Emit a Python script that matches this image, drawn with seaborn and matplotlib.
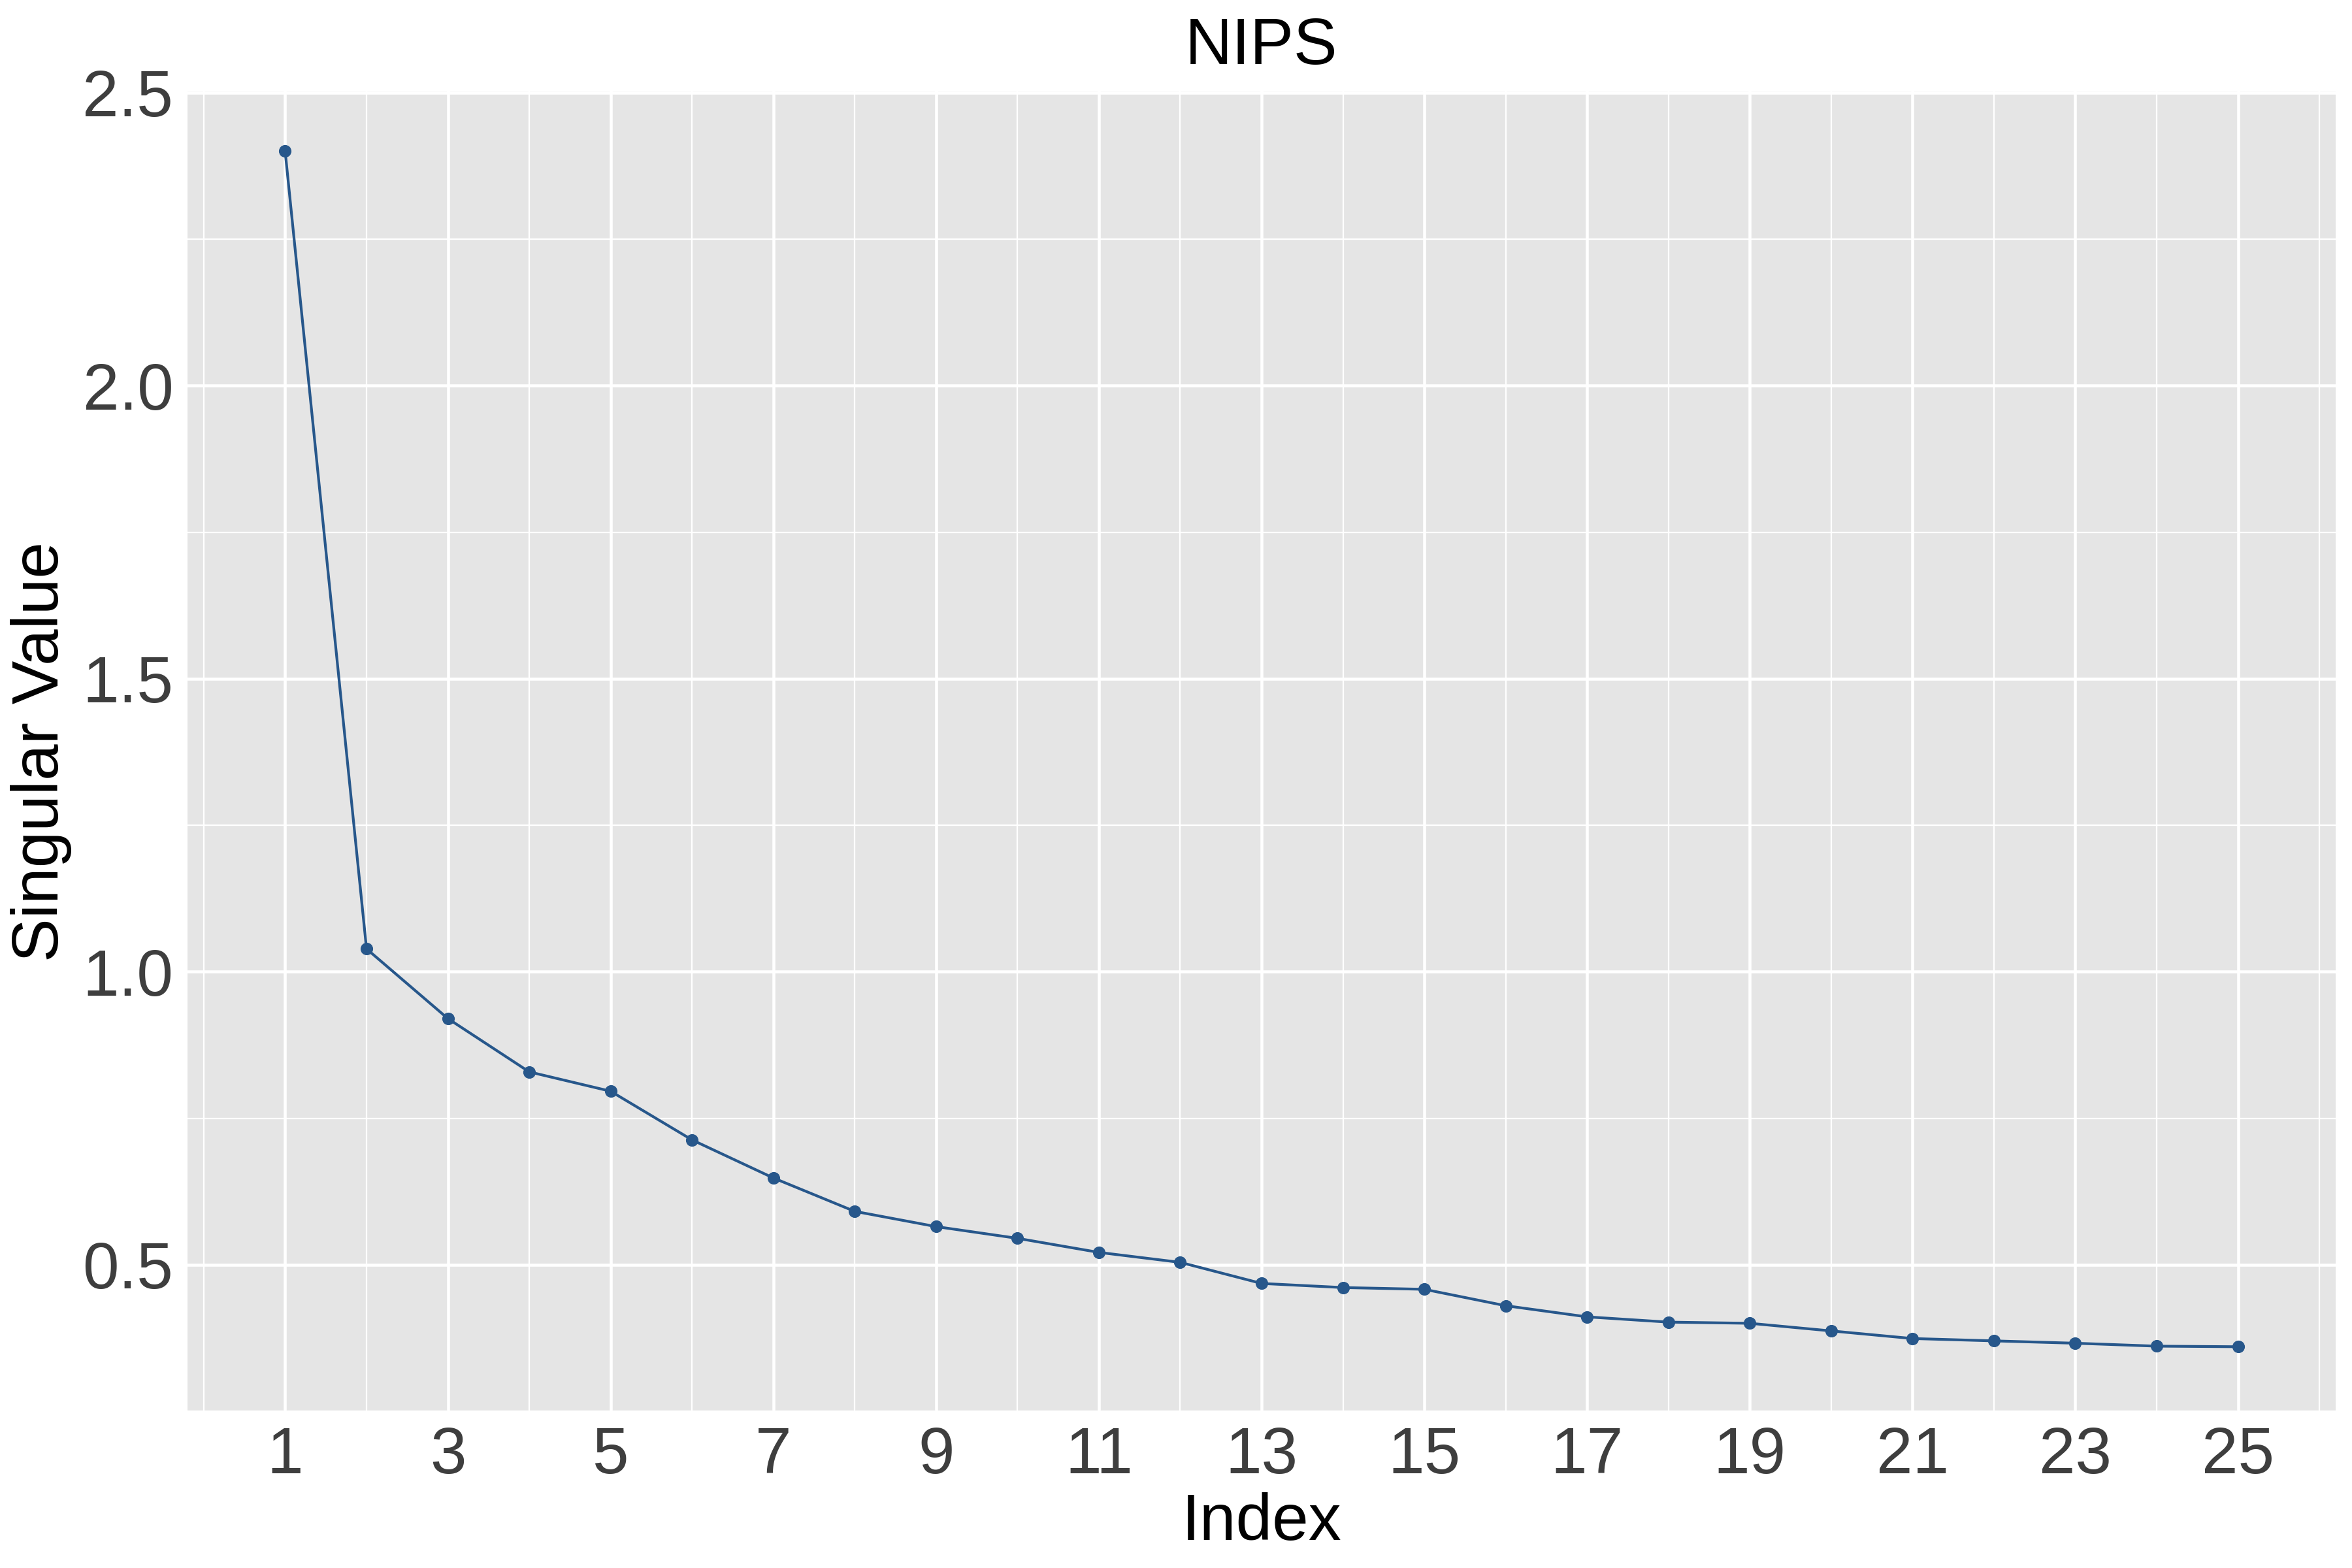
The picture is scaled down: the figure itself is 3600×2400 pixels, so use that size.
import matplotlib.pyplot as plt
import seaborn as sns
import pandas as pd

# singular values
index = list(range(1, 26))
singular_values = [2.400, 1.039, 0.920, 0.829, 0.796, 0.713, 0.648, 0.591,
                   0.565, 0.545, 0.521, 0.504, 0.468, 0.461, 0.458, 0.430,
                   0.411, 0.402, 0.400, 0.387, 0.374, 0.370, 0.366, 0.361,
                   0.360]
x_ticks = list(range(1, 26, 2))
y_ticks = [0.5, 1.0, 1.5, 2.0, 2.5]

df = pd.DataFrame({'Index': index, 'Singular Value': singular_values})

sns.set_theme(style='darkgrid')
plt.rcParams['font.family'] = ['Liberation Sans', 'DejaVu Sans']

fig, ax = plt.subplots(figsize=(12, 8), dpi=300)
fig.subplots_adjust(left=287 / 3600, right=3575 / 3600,
                    top=1 - 140 / 2400, bottom=1 - 2160 / 2400)

sns.lineplot(data=df, x='Index', y='Singular Value', marker='o',
             color='#27578B', linewidth=1.0, markersize=4.6,
             markeredgewidth=0, ax=ax)

ax.set_facecolor('#E5E5E5')
ax.set_xlim(-0.2, 26.2)
ax.set_ylim(0.258, 2.502)
ax.set_xticks(x_ticks)
ax.set_yticks(y_ticks)
ax.set_xticks(range(0, 27, 2), minor=True)
ax.set_yticks([0.25, 0.75, 1.25, 1.75, 2.25], minor=True)
ax.grid(which='major', color='white', linewidth=1.1)
ax.grid(which='minor', color='white', linewidth=0.55)
for s in ax.spines.values():
    s.set_visible(False)

ax.tick_params(which='major', length=2.7, width=0.9, color='#333333',
               labelsize=24, labelcolor='#3E3E3E', pad=2.5)
ax.tick_params(which='minor', length=0)

ax.set_title('NIPS', fontsize=24, color='black', pad=10)
ax.set_xlabel('Index', fontsize=24, color='black', labelpad=2)
ax.set_ylabel('Singular Value', fontsize=24, color='black', labelpad=4)

plt.savefig('out.png', dpi=300)
plt.close()
